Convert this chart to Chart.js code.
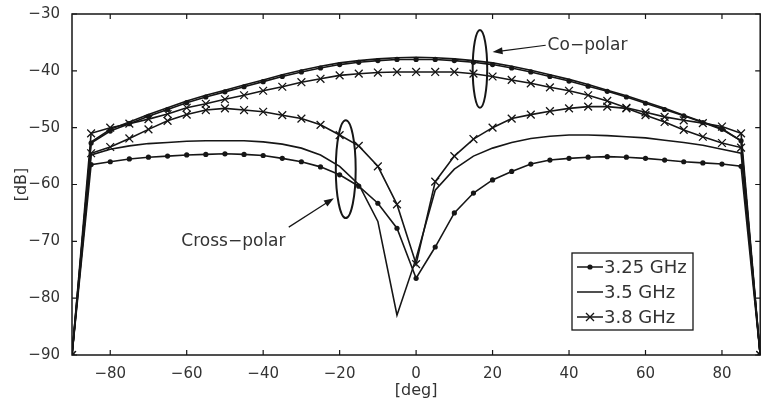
<!DOCTYPE html>
<html>
<head>
<meta charset="utf-8">
<script src="https://cdn.jsdelivr.net/npm/chart.js@4/dist/chart.umd.min.js"></script>
<style>
  html, body { margin: 0; padding: 0; background: #fff; }
  #wrap { width: 767px; height: 406px; }
</style>
</head>
<body>
<div id="wrap"><canvas id="chart"></canvas></div>
<script>
const angles = [-90, -85, -80, -75, -70, -65, -60, -55, -50, -45, -40, -35, -30, -25, -20, -15, -10, -5, 0,
  5, 10, 15, 20, 25, 30, 35, 40, 45, 50, 55, 60, 65, 70, 75, 80, 85, 90];

// co-polar
const co325 = [-90, -52.7, -50.6, -49.3, -48, -46.8, -45.6, -44.6, -43.7, -42.8, -41.9, -41, -40.2, -39.5, -38.9, -38.5, -38.2, -38, -38,
  -38, -38.2, -38.5, -38.9, -39.5, -40.2, -41, -41.8, -42.7, -43.6, -44.6, -45.7, -46.8, -47.9, -49.1, -50.3, -52.3, -90];
const co35 = [-90, -52.5, -50.3, -49, -47.7, -46.5, -45.3, -44.3, -43.4, -42.5, -41.6, -40.7, -39.9, -39.2, -38.6, -38.2, -37.9, -37.7, -37.6,
  -37.7, -37.9, -38.2, -38.6, -39.2, -39.9, -40.7, -41.5, -42.4, -43.4, -44.4, -45.5, -46.6, -47.8, -49, -50.2, -52.3, -90];
const co38 = [-90, -51, -50, -49.3, -48.5, -47.6, -46.5, -45.8, -45, -44.3, -43.5, -42.8, -42, -41.4, -40.8, -40.5, -40.3, -40.2, -40.2,
  -40.2, -40.2, -40.5, -41, -41.6, -42.2, -42.9, -43.5, -44.3, -45.3, -46.5, -47.3, -48.1, -48.7, -49.2, -49.8, -51, -90];

// cross-polar
const x325 = [-90, -56.5, -56, -55.5, -55.2, -55, -54.8, -54.7, -54.6, -54.7, -54.9, -55.4, -56, -56.9, -58.3, -60.3, -63.3, -67.7, -76.5,
  -71, -65, -61.5, -59.2, -57.7, -56.4, -55.7, -55.4, -55.2, -55.1, -55.2, -55.4, -55.7, -56, -56.2, -56.4, -56.8, -90];
const x35 = [-90, -54.8, -53.8, -53.2, -52.8, -52.6, -52.4, -52.3, -52.3, -52.3, -52.5, -52.9, -53.6, -54.8, -56.8, -60, -66.5, -83, -73,
  -61, -57.3, -55, -53.6, -52.6, -51.9, -51.5, -51.3, -51.3, -51.4, -51.6, -51.8, -52.2, -52.6, -53.1, -53.8, -54.5, -90];
const x38 = [-90, -54.5, -53.4, -51.9, -50.3, -48.8, -47.7, -46.9, -46.6, -46.9, -47.2, -47.8, -48.4, -49.5, -51.3, -53.2, -56.8, -63.5, -74,
  -59.5, -55, -52, -50, -48.4, -47.7, -47.1, -46.6, -46.3, -46.3, -46.6, -47.8, -49, -50.4, -51.6, -52.7, -53.5, -90];

const xTicks = [-80, -60, -40, -20, 0, 20, 40, 60, 80];
const yTicks = [-90, -80, -70, -60, -50, -40, -30];
const legendLabels = ['3.25 GHz', '3.5 GHz', '3.8 GHz'];

const INK = '#161616';
const fmt = v => v < 0 ? '\u2212' + Math.abs(v) : String(v);
const pts = arr => angles.map((a, i) => ({ x: a, y: arr[i] }));

function series(arr, kind) {
  const base = { data: pts(arr), borderColor: INK, backgroundColor: INK, borderWidth: 1.6, tension: 0, fill: false };
  if (kind === 'dot') return Object.assign(base, { pointStyle: 'circle', pointRadius: 2.6, pointBorderWidth: 0 });
  if (kind === 'cross') return Object.assign(base, { pointStyle: 'crossRot', pointRadius: 5.5, pointBorderWidth: 1.3 });
  return Object.assign(base, { pointRadius: 0 });
}

function arrow(ctx, x1, y1, x2, y2) {
  const ang = Math.atan2(y2 - y1, x2 - x1);
  ctx.beginPath();
  ctx.moveTo(x1, y1);
  ctx.lineTo(x2 - 8 * Math.cos(ang), y2 - 8 * Math.sin(ang));
  ctx.stroke();
  ctx.beginPath();
  ctx.moveTo(x2, y2);
  ctx.lineTo(x2 - 10 * Math.cos(ang) + 3.5 * Math.sin(ang), y2 - 10 * Math.sin(ang) - 3.5 * Math.cos(ang));
  ctx.lineTo(x2 - 10 * Math.cos(ang) - 3.5 * Math.sin(ang), y2 - 10 * Math.sin(ang) + 3.5 * Math.cos(ang));
  ctx.closePath();
  ctx.fill();
}

function ellipse(ctx, xs, ys, x0, x1, y0, y1) {
  const cx = (xs(x0) + xs(x1)) / 2, cy = (ys(y0) + ys(y1)) / 2;
  ctx.beginPath();
  ctx.ellipse(cx, cy, Math.abs(xs(x1) - xs(x0)) / 2, Math.abs(ys(y1) - ys(y0)) / 2, 0, 0, Math.PI * 2);
  ctx.stroke();
}

const decor = {
  id: 'decor',
  afterDraw(chart) {
    const { ctx, chartArea: a, scales } = chart;
    const xs = v => scales.x.getPixelForValue(v);
    const ys = v => scales.y.getPixelForValue(v);
    ctx.save();
    ctx.strokeStyle = INK;
    ctx.fillStyle = INK;

    // frame + inward ticks
    ctx.lineWidth = 1.5;
    ctx.strokeRect(a.left, a.top, a.right - a.left, a.bottom - a.top);
    ctx.lineWidth = 1.2;
    ctx.beginPath();
    xTicks.forEach(v => {
      const x = xs(v);
      ctx.moveTo(x, a.bottom); ctx.lineTo(x, a.bottom - 5);
      ctx.moveTo(x, a.top); ctx.lineTo(x, a.top + 5);
    });
    yTicks.forEach(v => {
      const y = ys(v);
      ctx.moveTo(a.left, y); ctx.lineTo(a.left + 5, y);
      ctx.moveTo(a.right, y); ctx.lineTo(a.right - 5, y);
    });
    ctx.stroke();

    // axis titles
    ctx.font = '16px "DejaVu Sans"';
    ctx.fillStyle = '#333';
    ctx.textAlign = 'center';
    ctx.textBaseline = 'middle';
    ctx.fillText('[deg]', xs(0), 391);
    ctx.save();
    ctx.translate(22, (a.top + a.bottom) / 2);
    ctx.rotate(-Math.PI / 2);
    ctx.fillText('[dB]', 0, 0);
    ctx.restore();

    // annotations
    ctx.fillStyle = INK;
    ctx.lineWidth = 2;
    ellipse(ctx, xs, ys, 14.8, 18.6, -32.8, -46.5);
    ellipse(ctx, xs, ys, -21, -15.8, -48.7, -65.9);
    ctx.lineWidth = 1.2;
    arrow(ctx, xs(33.9), ys(-35.5), xs(20), ys(-36.7));
    arrow(ctx, xs(-33.3), ys(-67.5), xs(-21.5), ys(-62.4));
    ctx.font = '17px "DejaVu Sans"';
    ctx.fillStyle = '#333';
    ctx.textAlign = 'left';
    ctx.fillText('Co\u2212polar', xs(34.4), ys(-35.5));
    ctx.fillText('Cross\u2212polar', xs(-61.4), ys(-70.1));

    // legend
    const bx = 572, by = 253, bw = 121, bh = 77;
    ctx.fillStyle = '#fff';
    ctx.fillRect(bx, by, bw, bh);
    ctx.lineWidth = 1.3;
    ctx.strokeStyle = INK;
    ctx.strokeRect(bx, by, bw, bh);
    const rows = [267, 292, 317];
    const kinds = ['dot', 'line', 'cross'];
    ctx.font = '18px "DejaVu Sans"';
    rows.forEach((ry, i) => {
      ctx.strokeStyle = INK;
      ctx.lineWidth = 1.5;
      ctx.beginPath();
      ctx.moveTo(577, ry); ctx.lineTo(603, ry);
      ctx.stroke();
      if (kinds[i] === 'dot') {
        ctx.fillStyle = INK;
        ctx.beginPath(); ctx.arc(590, ry, 2.6, 0, Math.PI * 2); ctx.fill();
      } else if (kinds[i] === 'cross') {
        ctx.lineWidth = 1.3;
        ctx.beginPath();
        ctx.moveTo(586, ry - 4); ctx.lineTo(594, ry + 4);
        ctx.moveTo(594, ry - 4); ctx.lineTo(586, ry + 4);
        ctx.stroke();
      }
      ctx.fillStyle = '#333';
      ctx.fillText(legendLabels[i], 604, ry + 1);
    });
    ctx.restore();
  }
};

new Chart(document.getElementById('chart'), {
  type: 'line',
  data: {
    datasets: [
      series(co325, 'dot'), series(co35, 'line'), series(co38, 'cross'),
      series(x325, 'dot'), series(x35, 'line'), series(x38, 'cross')
    ]
  },
  options: {
    responsive: true,
    maintainAspectRatio: false,
    animation: false,
    layout: { padding: { top: 14, right: 1, left: 0, bottom: 0 } },
    plugins: { legend: { display: false }, tooltip: { enabled: false } },
    scales: {
      x: {
        type: 'linear', min: -90, max: 90,
        afterBuildTicks: s => { s.ticks = xTicks.map(v => ({ value: v })); },
        afterFit: s => { s.height = 51; },
        grid: { display: false },
        border: { display: false },
        ticks: { callback: v => fmt(v), color: '#333', font: { family: 'DejaVu Sans', size: 15 }, padding: 2, maxRotation: 0 }
      },
      y: {
        min: -90, max: -30,
        afterBuildTicks: s => { s.ticks = yTicks.map(v => ({ value: v })); },
        afterFit: s => { s.width = 72; },
        grid: { display: false },
        border: { display: false },
        ticks: { callback: v => fmt(v), color: '#333', font: { family: 'DejaVu Sans', size: 15 }, padding: 4 }
      }
    }
  },
  plugins: [decor]
});
</script>
</body>
</html>
